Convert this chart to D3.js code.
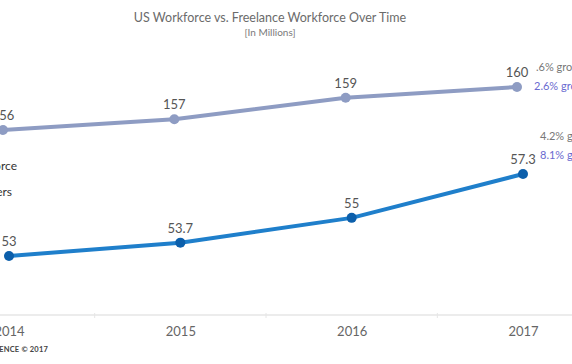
<!DOCTYPE html>
<html><head><meta charset="utf-8">
<script src="https://cdn.jsdelivr.net/npm/d3@7/dist/d3.min.js"></script>
<style>
html,body{margin:0;padding:0;background:#fff;overflow:hidden;}
svg{display:block;font-family:Lato,"Open Sans",sans-serif;}
</style></head>
<body>
<svg id="c" width="572" height="364"></svg>
<script>
const years = ["2014","2015","2016","2017"];
const usWorkforce = [156, 157, 159, 160];
const freelancers = [53, 53.7, 55, 57.3];
const usLabels = ["156","157","159","160"];
const flLabels = ["53","53.7","55","57.3"];
const legendNames = ["US Workforce","Freelancers"];
const usNotes = [".6% growth from 2016", "2.6% growth since 2014"];
const flNotes = ["4.2% growth from 2016", "8.1% growth since 2014"];
const footer = "EDELMAN INTELLIGENCE © 2017";

const svg = d3.select("#c");
const W = 572, H = 364;

const x = d3.scalePoint().domain(years).range([9, 523]);
const yUS = d3.scaleLinear().domain([156, 160]).range([130, 87]);
const yFL = d3.scaleLinear().domain([53, 57.3]).range([256, 174]);
const usShift = -6;

// title
svg.append("text").attr("x", 270).attr("y", 22).attr("text-anchor","middle")
  .attr("fill","#6b6b6b").attr("font-size",12.5).text("US Workforce vs. Freelance Workforce Over Time");
svg.append("text").attr("x", 270).attr("y", 36).attr("text-anchor","middle")
  .attr("fill","#7a7a7a").attr("font-size",10).text("[In Millions]");

// x axis
const axisY = 315;
const xAxis = d3.axisBottom(x).tickSize(0).tickPadding(12);
const gx = svg.append("g").attr("transform",`translate(0,${axisY})`).call(xAxis);
gx.select(".domain").remove();
gx.append("line").attr("x1",0).attr("x2",W).attr("y1",0).attr("y2",0)
  .attr("stroke","#ececec").attr("stroke-width",2);
gx.selectAll(".tick text").attr("fill","#666").attr("font-size",13)
  .attr("font-family","Lato,'Open Sans',sans-serif");
const mids = years.slice(1).map((y,i)=> (x(years[i]) + x(y))/2);
gx.selectAll(".sep").data(mids).join("line").attr("class","sep")
  .attr("x1",d=>d).attr("x2",d=>d).attr("y1",-2).attr("y2",3)
  .attr("stroke","#e6e6e6").attr("stroke-width",1);

// lines
const lineUS = d3.line().x((d,i)=>x(years[i])+usShift).y(d=>yUS(d));
const lineFL = d3.line().x((d,i)=>x(years[i])).y(d=>yFL(d));

svg.append("path").datum(usWorkforce).attr("d",lineUS).attr("fill","none")
  .attr("stroke","#8e9cc3").attr("stroke-width",4).attr("stroke-linejoin","round");
svg.selectAll(".dUS").data(usWorkforce).join("circle").attr("class","dUS")
  .attr("cx",(d,i)=>x(years[i])+usShift).attr("cy",d=>yUS(d)).attr("r",5).attr("fill","#8e9cc3");
svg.selectAll(".lUS").data(usWorkforce).join("text").attr("class","lUS")
  .attr("x",(d,i)=>x(years[i])+usShift).attr("y",d=>yUS(d)-10).attr("text-anchor","middle")
  .attr("fill","#555").attr("font-size",13).text((d,i)=>usLabels[i]);

svg.append("path").datum(freelancers).attr("d",lineFL).attr("fill","none")
  .attr("stroke","#1f7fcb").attr("stroke-width",4).attr("stroke-linejoin","round");
svg.selectAll(".dFL").data(freelancers).join("circle").attr("class","dFL")
  .attr("cx",(d,i)=>x(years[i])).attr("cy",d=>yFL(d)).attr("r",5).attr("fill","#0c5fab");
svg.selectAll(".lFL").data(freelancers).join("text").attr("class","lFL")
  .attr("x",(d,i)=>x(years[i])).attr("y",d=>yFL(d)-10).attr("text-anchor","middle")
  .attr("fill","#555").attr("font-size",13).text((d,i)=>flLabels[i]);

// legend (cut at left edge, as in the reference)
svg.append("text").attr("x",17).attr("y",170).attr("text-anchor","end")
  .attr("fill","#333").attr("font-size",12).text(legendNames[0]);
svg.append("text").attr("x",12).attr("y",196).attr("text-anchor","end")
  .attr("fill","#333").attr("font-size",12).text(legendNames[1]);

// right notes
svg.append("text").attr("x",536).attr("y",71).attr("fill","#777").attr("font-size",11).text(usNotes[0]);
svg.append("text").attr("x",534).attr("y",90).attr("fill","#6a6ad0").attr("font-size",11).text(usNotes[1]);
svg.append("text").attr("x",540).attr("y",140).attr("fill","#777").attr("font-size",11).text(flNotes[0]);
svg.append("text").attr("x",540).attr("y",159).attr("fill","#6a6ad0").attr("font-size",11).text(flNotes[1]);

// footer
svg.append("text").attr("x",48).attr("y",352).attr("text-anchor","end")
  .attr("fill","#444").attr("font-size",7.5).attr("font-weight","bold").attr("letter-spacing",0.2)
  .text(footer);
</script>
</body></html>
